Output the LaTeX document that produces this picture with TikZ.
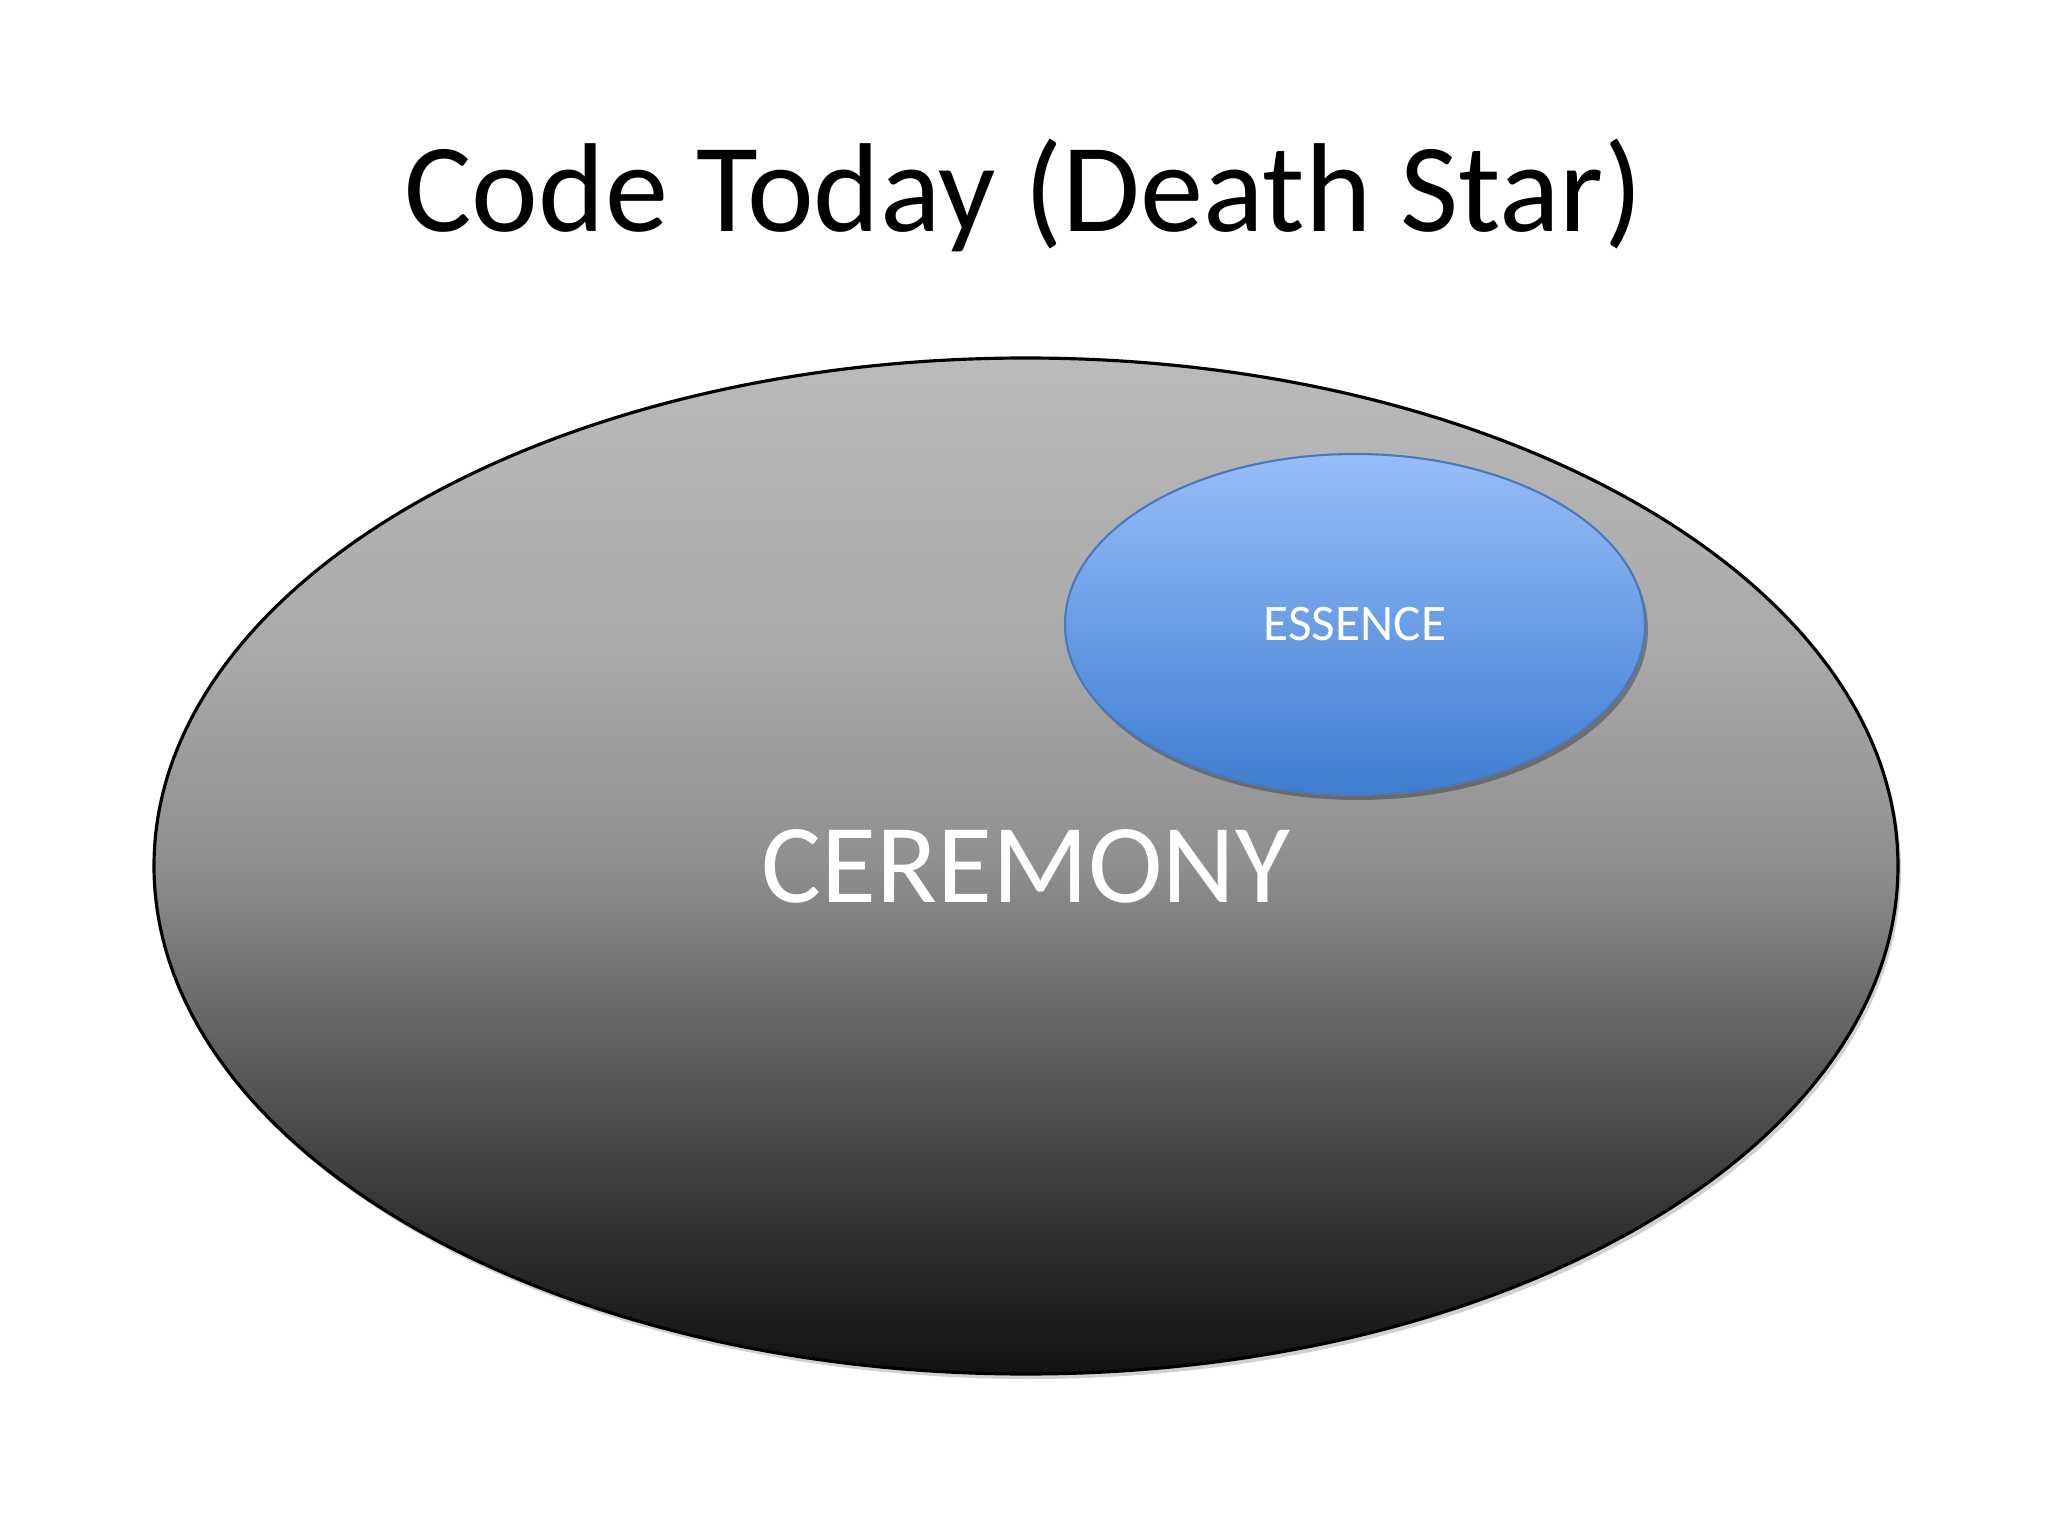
\documentclass[tikz,border=0pt]{standalone}
\usepackage{fontspec}
\setmainfont{Carlito}
\usetikzlibrary{shapes.geometric,shadows}

\definecolor{bluetop}{HTML}{97BEFA}
\definecolor{bluemid}{HTML}{78A4E8}
\definecolor{bluebot}{HTML}{3E7DCF}
\definecolor{blueline}{HTML}{4A78B8}

%grey shading of the big ellipse (25bp = bottom, 75bp = top)
\pgfdeclareverticalshading{ceremonyshade}{100bp}{
	color(0bp)=(black!93); color(25bp)=(black!93);
	color(31.5bp)=(black!82); color(41bp)=(black!63);
	color(50bp)=(black!44); color(60bp)=(black!34);
	color(75bp)=(black!27); color(100bp)=(black!27)}

\begin{document}
\begin{tikzpicture}[
	ceremonyshape/.style={ellipse, draw=black, line width=0.9pt, inner sep=0pt,
		minimum width=17.44cm, minimum height=10.16cm,
		shading=ceremonyshade,
		drop shadow={shadow xshift=0.03cm, shadow yshift=-0.05cm, opacity=0.18, fill=black},
		text=white, font=\fontsize{32}{38}\selectfont},
	essenceshape/.style={ellipse, draw=blueline, line width=0.6pt, inner sep=0pt,
		minimum width=5.8cm, minimum height=3.41cm,
		top color=bluetop, middle color=bluemid, bottom color=bluebot,
		drop shadow={shadow xshift=0.03cm, shadow yshift=-0.05cm, opacity=0.3, fill=black},
		text=white, font=\fontsize{14.6}{17}\selectfont}]
	
	\useasboundingbox (0,0) rectangle (20.48,-15.36);
	\fill[white] (0,0) rectangle (20.48,-15.36);
	
	%title
	\node[anchor=base, font=\fontsize{36}{43}\selectfont] (title) at (10.235,-2.32) {Code Today (Death Star)};
	
	%big ellipse
	\coordinate (C) at (10.26,-8.66);
	\node[ceremonyshape] (ceremony) at (C) {CEREMONY};
	
	%small ellipse
	\coordinate (E) at (13.55,-6.245);
	\node[essenceshape] (essence) at (E) {ESSENCE};
	
\end{tikzpicture}
\end{document}
